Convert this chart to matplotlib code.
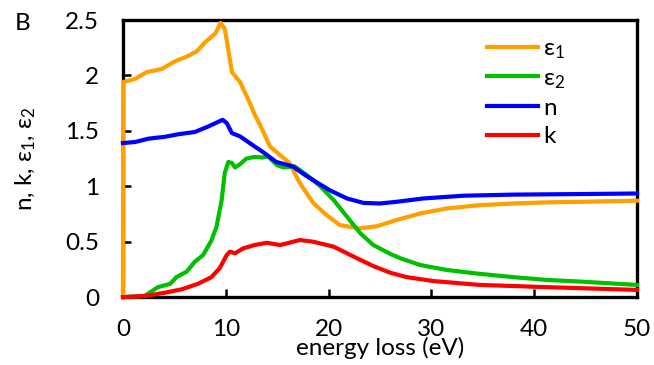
import matplotlib
matplotlib.use("Agg")
import matplotlib.pyplot as plt

plt.rcParams['font.family'] = ['Lato', 'DejaVu Sans']
plt.rcParams['mathtext.fontset'] = 'custom'
plt.rcParams['mathtext.rm'] = 'Lato'
plt.rcParams['mathtext.it'] = 'Lato'

# values (energy in eV)
e1_x = [0, 0.03, 1.2, 2.3, 3.8, 5.1, 6.2, 7.2, 8.0, 9.0, 9.5, 9.9, 10.25, 10.6, 11.4, 12.2,
        12.8, 13.3, 14.3, 15.3, 16.2, 17.2, 18.5, 19.8, 21.1, 23.0, 24.7, 26.6, 28.9,
        31.5, 34.7, 38.0, 41.2, 44.5, 50]
e1_y = [0, 1.94, 1.97, 2.03, 2.06, 2.13, 2.17, 2.22, 2.30, 2.38, 2.475, 2.42, 2.23, 2.03,
        1.94, 1.78, 1.65, 1.56, 1.36, 1.28, 1.21, 1.03, 0.85, 0.74, 0.65, 0.62, 0.64, 0.695,
        0.755, 0.80, 0.83, 0.845, 0.855, 0.86, 0.87]

e2_x = [0, 2.1, 3.4, 4.6, 5.2, 6.2, 7.0, 7.8, 8.6, 9.1, 9.6, 9.9, 10.25, 10.6, 10.9, 11.4,
        12.0, 12.8, 13.6, 14.1, 15.0, 15.6, 16.7, 17.9, 19.2, 20.5, 21.8, 23.1, 24.35, 26.0,
        27.0, 28.9, 31.5, 34.7, 38.0, 41.2, 44.5, 50]
e2_y = [0, 0.01, 0.09, 0.12, 0.18, 0.23, 0.32, 0.38, 0.51, 0.635, 0.875, 1.12, 1.22, 1.21,
        1.17, 1.20, 1.25, 1.265, 1.26, 1.27, 1.19, 1.17, 1.18, 1.10, 1.00, 0.875, 0.725,
        0.575, 0.47, 0.39, 0.35, 0.29, 0.245, 0.21, 0.18, 0.155, 0.14, 0.11]

n_x = [0, 1.2, 2.5, 4.1, 5.4, 7.0, 8.3, 9.7, 10.1, 10.6, 11.4, 12.8, 13.6, 14.9, 16.5,
       17.9, 20.1, 21.8, 23.4, 25.0, 26.6, 29.2, 33.1, 38.0, 44.5, 50]
n_y = [1.39, 1.40, 1.43, 1.447, 1.47, 1.49, 1.54, 1.60, 1.57, 1.48, 1.45, 1.36, 1.31, 1.22,
       1.18, 1.09, 0.965, 0.89, 0.85, 0.845, 0.86, 0.89, 0.915, 0.925, 0.93, 0.935]

k_x = [0, 2.1, 4.1, 5.7, 7.3, 8.6, 9.4, 10.1, 10.4, 10.9, 11.7, 12.8, 14.0, 15.3, 17.2,
       18.5, 20.5, 22.45, 24.35, 26.0, 27.6, 30.2, 34.7, 41.2, 50]
k_y = [0, 0.01, 0.04, 0.07, 0.12, 0.18, 0.26, 0.38, 0.41, 0.395, 0.44, 0.47, 0.49, 0.47,
       0.515, 0.50, 0.455, 0.365, 0.28, 0.22, 0.18, 0.145, 0.11, 0.09, 0.065]

x_ticks = [0, 10, 20, 30, 40, 50]
y_ticks = [0, 0.5, 1, 1.5, 2, 2.5]
y_tick_labels = ['0', '0.5', '1', '1.5', '2', '2.5']

fs = 17.5
fig = plt.figure(figsize=(6.54, 3.65), dpi=100)
ax = fig.add_axes([0.188, 0.186, 0.786, 0.759])

lw = 3.0
ax.plot(e1_x, e1_y, color='#ffa000', lw=lw, label=r'ε$_1$', clip_on=False, zorder=3)
ax.plot(e2_x, e2_y, color='#00c000', lw=lw, label=r'ε$_2$', clip_on=False, zorder=3)
ax.plot(n_x, n_y, color='#0000ff', lw=lw, label='n', clip_on=False, zorder=3)
ax.plot(k_x, k_y, color='#ff0000', lw=lw, label='k', clip_on=False, zorder=3)

ax.set_xlim(0, 50)
ax.set_ylim(0, 2.5)
ax.set_xticks(x_ticks)
ax.set_yticks(y_ticks)
ax.set_yticklabels(y_tick_labels)
ax.tick_params(direction='in', length=5.5, width=1.8, labelsize=fs)
ax.tick_params(axis='y', pad=17)
ax.tick_params(axis='x', pad=16)
for s in ax.spines.values():
    s.set_linewidth(2.4)

ax.set_xlabel('energy loss (eV)', fontsize=fs)
ax.xaxis.set_label_coords(0.5, -0.145)
ax.set_ylabel(r'n, k, ε$_1$, ε$_2$', fontsize=fs)
ax.yaxis.set_label_coords(-0.165, 0.5)

ax.legend(loc='upper left', bbox_to_anchor=(0.708, 0.935), frameon=False, fontsize=fs,
          handlelength=2.1, handletextpad=0.2, labelspacing=0.3, borderpad=0,
          borderaxespad=0)

fig.text(0.022, 0.965, 'B', fontsize=fs, va='top')

fig.savefig('out.png', dpi=100)
